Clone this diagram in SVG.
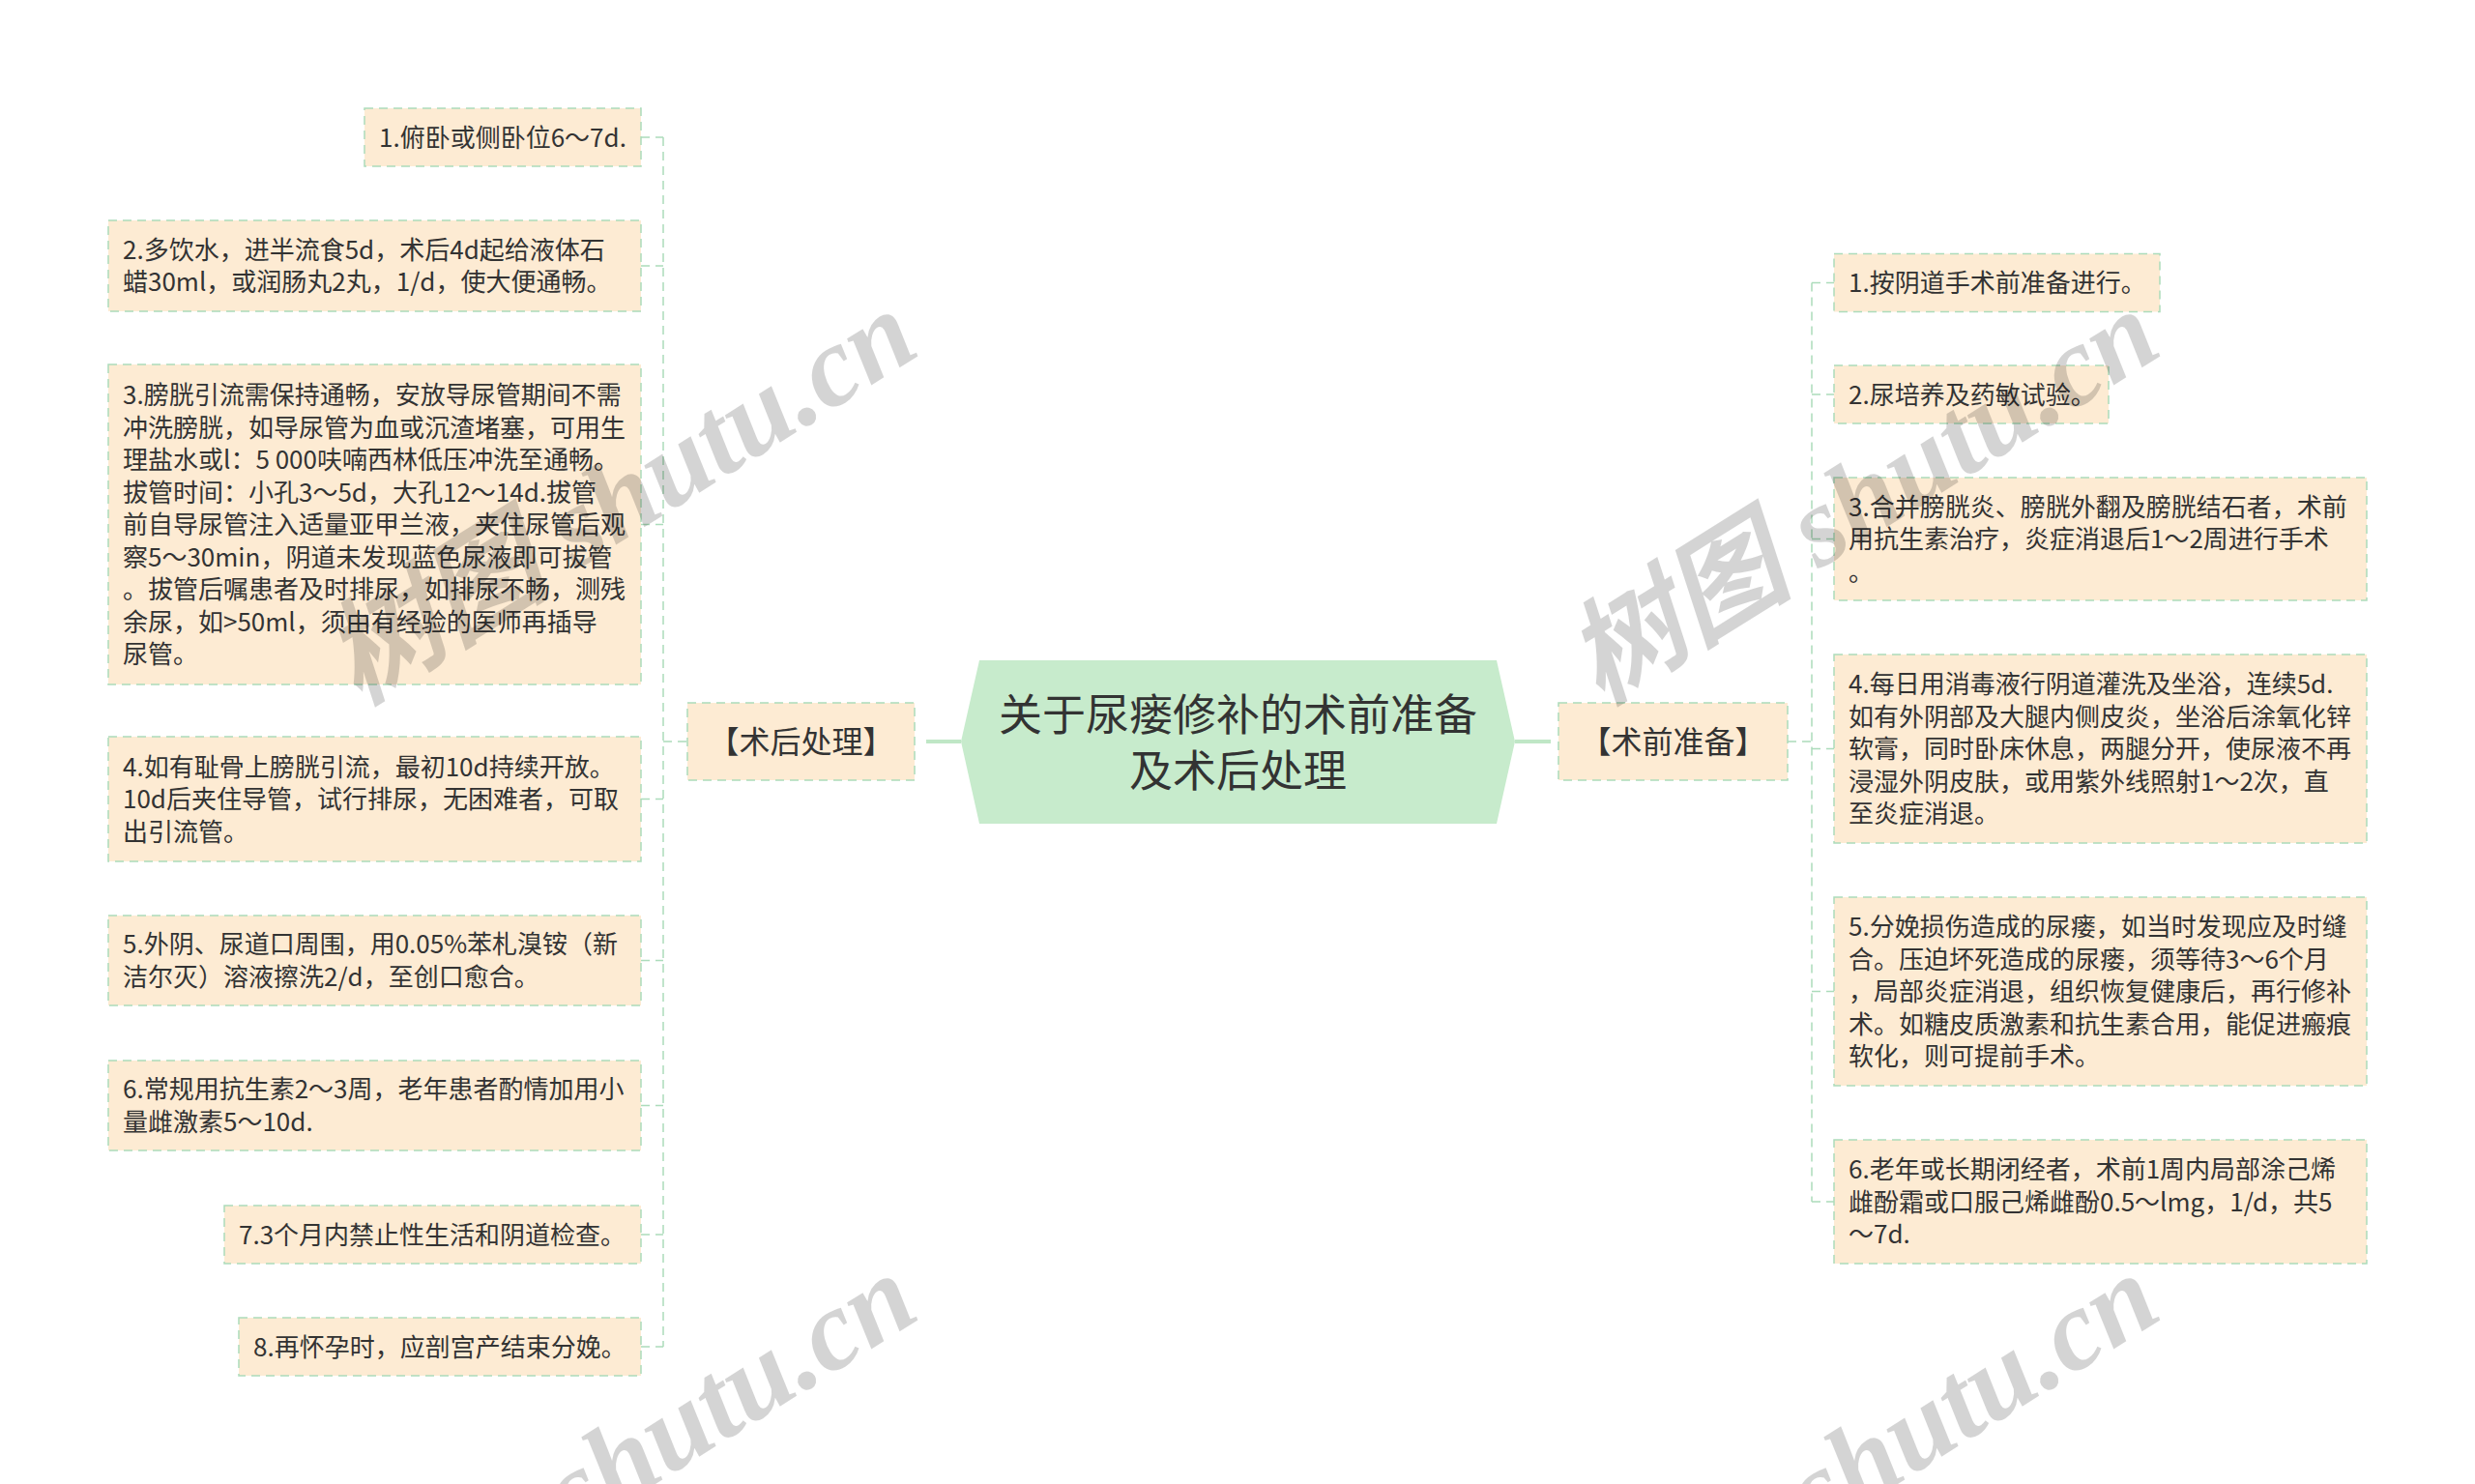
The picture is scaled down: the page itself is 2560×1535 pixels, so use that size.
<svg xmlns="http://www.w3.org/2000/svg" width="2560" height="1535" viewBox="0 0 2560 1535">
<style>
.bx{fill:#fdebd3;stroke:#acdcbb;stroke-width:1.5;stroke-dasharray:9 6}
.t{font-family:"Noto Sans CJK SC","Noto Sans",sans-serif;font-size:26px;fill:#333}
.sub{font-family:"Noto Sans CJK SC","Noto Sans",sans-serif;font-size:32px;fill:#333;text-anchor:middle}
.ctr{font-family:"Noto Sans CJK SC","Noto Sans",sans-serif;font-size:45px;fill:#333;text-anchor:middle}
.dl{fill:none;stroke:#acdcbb;stroke-width:1.5;stroke-dasharray:9 6}
.sl{fill:none;stroke:#bfe7c6;stroke-width:4}
.wm{font-family:"Liberation Serif","Noto Sans CJK SC",serif;font-style:italic;font-weight:bold;font-size:118px;fill:#000;fill-opacity:0.17;text-anchor:end}
</style>
<rect width="2560" height="1535" fill="#ffffff"/>
<g id="connectors">
<path class="dl" d="M686,142V1393M663,142H686M663,275H686M663,542.5H686M663,826.5H686M663,993.5H686M663,1143.5H686M663,1277H686M663,1393H686M686,767H711"/>
<path class="dl" d="M1874,292.5V1243M1874,292.5H1897M1874,408H1897M1874,557.5H1897M1874,774.5H1897M1874,1025.5H1897M1874,1243H1897M1849,767H1874"/>
<path class="sl" d="M958,767H994M1567,767H1604"/>
</g>
<g id="center">
<polygon points="1013,683 1548,683 1567,767 1548,852 1013,852 994,767" fill="#c7ebcc"/>
<text class="ctr" x="1280.5" y="756">关于尿瘘修补的术前准备</text>
<text class="ctr" x="1280.5" y="814">及术后处理</text>
</g>
<g id="post">
<rect class="bx" x="711" y="727" width="235" height="80"/>
<text class="sub" x="828.5" y="779">【术后处理】</text>
</g>
<g id="pre">
<rect class="bx" x="1612" y="727" width="237" height="80"/>
<text class="sub" x="1730.5" y="779">【术前准备】</text>
</g>
<g id="L1">
<rect class="bx" x="377" y="112" width="286" height="60"/>
<text class="t" x="392" y="151.5">1.俯卧或侧卧位6～7d.</text>
</g>
<g id="L2">
<rect class="bx" x="112" y="228" width="551" height="94"/>
<text class="t"><tspan x="127" y="267.75">2.多饮水，进半流食5d，术后4d起给液体石</tspan><tspan x="127" y="301.25">蜡30ml，或润肠丸2丸，1/d，使大便通畅。</tspan></text>
</g>
<g id="L3">
<rect class="bx" x="112" y="377" width="551" height="331"/>
<text class="t"><tspan x="127" y="418">3.膀胱引流需保持通畅，安放导尿管期间不需</tspan><tspan x="127" y="451.5">冲洗膀胱，如导尿管为血或沉渣堵塞，可用生</tspan><tspan x="127" y="485">理盐水或l：5 000呋喃西林低压冲洗至通畅。</tspan><tspan x="127" y="518.5">拔管时间：小孔3～5d，大孔12～14d.拔管</tspan><tspan x="127" y="552">前自导尿管注入适量亚甲兰液，夹住尿管后观</tspan><tspan x="127" y="585.5">察5～30min，阴道未发现蓝色尿液即可拔管</tspan><tspan x="127" y="619">。拔管后嘱患者及时排尿，如排尿不畅，测残</tspan><tspan x="127" y="652.5">余尿，如&gt;50ml，须由有经验的医师再插导</tspan><tspan x="127" y="686">尿管。</tspan></text>
</g>
<g id="L4">
<rect class="bx" x="112" y="762" width="551" height="129"/>
<text class="t"><tspan x="127" y="802.5">4.如有耻骨上膀胱引流，最初10d持续开放。</tspan><tspan x="127" y="836">10d后夹住导管，试行排尿，无困难者，可取</tspan><tspan x="127" y="869.5">出引流管。</tspan></text>
</g>
<g id="L5">
<rect class="bx" x="112" y="947" width="551" height="93"/>
<text class="t"><tspan x="127" y="986.25">5.外阴、尿道口周围，用0.05%苯札溴铵（新</tspan><tspan x="127" y="1019.75">洁尔灭）溶液擦洗2/d，至创口愈合。</tspan></text>
</g>
<g id="L6">
<rect class="bx" x="112" y="1097" width="551" height="93"/>
<text class="t"><tspan x="127" y="1136.25">6.常规用抗生素2～3周，老年患者酌情加用小</tspan><tspan x="127" y="1169.75">量雌激素5～10d.</tspan></text>
</g>
<g id="L7">
<rect class="bx" x="232" y="1247" width="431" height="60"/>
<text class="t" x="247" y="1286.5">7.3个月内禁止性生活和阴道检查。</text>
</g>
<g id="L8">
<rect class="bx" x="247" y="1363" width="416" height="60"/>
<text class="t" x="262" y="1402.5">8.再怀孕时，应剖宫产结束分娩。</text>
</g>
<g id="R1">
<rect class="bx" x="1897" y="262.5" width="337" height="60"/>
<text class="t" x="1912" y="302">1.按阴道手术前准备进行。</text>
</g>
<g id="R2">
<rect class="bx" x="1897" y="378" width="284" height="60"/>
<text class="t" x="1912" y="417.5">2.尿培养及药敏试验。</text>
</g>
<g id="R3">
<rect class="bx" x="1897" y="494" width="551" height="127"/>
<text class="t"><tspan x="1912" y="533.5">3.合并膀胱炎、膀胱外翻及膀胱结石者，术前</tspan><tspan x="1912" y="567">用抗生素治疗，炎症消退后1～2周进行手术</tspan><tspan x="1912" y="600.5">。</tspan></text>
</g>
<g id="R4">
<rect class="bx" x="1897" y="677" width="551" height="195"/>
<text class="t"><tspan x="1912" y="717">4.每日用消毒液行阴道灌洗及坐浴，连续5d.</tspan><tspan x="1912" y="750.5">如有外阴部及大腿内侧皮炎，坐浴后涂氧化锌</tspan><tspan x="1912" y="784">软膏，同时卧床休息，两腿分开，使尿液不再</tspan><tspan x="1912" y="817.5">浸湿外阴皮肤，或用紫外线照射1～2次，直</tspan><tspan x="1912" y="851">至炎症消退。</tspan></text>
</g>
<g id="R5">
<rect class="bx" x="1897" y="928" width="551" height="195"/>
<text class="t"><tspan x="1912" y="968">5.分娩损伤造成的尿瘘，如当时发现应及时缝</tspan><tspan x="1912" y="1001.5">合。压迫坏死造成的尿瘘，须等待3～6个月</tspan><tspan x="1912" y="1035">，局部炎症消退，组织恢复健康后，再行修补</tspan><tspan x="1912" y="1068.5">术。如糖皮质激素和抗生素合用，能促进瘢痕</tspan><tspan x="1912" y="1102">软化，则可提前手术。</tspan></text>
</g>
<g id="R6">
<rect class="bx" x="1897" y="1179" width="551" height="128"/>
<text class="t"><tspan x="1912" y="1219">6.老年或长期闭经者，术前1周内局部涂己烯</tspan><tspan x="1912" y="1252.5">雌酚霜或口服己烯雌酚0.5～lmg，1/d，共5</tspan><tspan x="1912" y="1286">～7d.</tspan></text>
</g>
<g id="watermark">
<text class="wm" transform="translate(955,365) rotate(-32)">树图 shutu.cn</text>
<text class="wm" transform="translate(2240,365) rotate(-32)">树图 shutu.cn</text>
<text class="wm" transform="translate(955,1362) rotate(-32)">shutu.cn</text>
<text class="wm" transform="translate(2240,1362) rotate(-32)">shutu.cn</text>
</g>
</svg>
